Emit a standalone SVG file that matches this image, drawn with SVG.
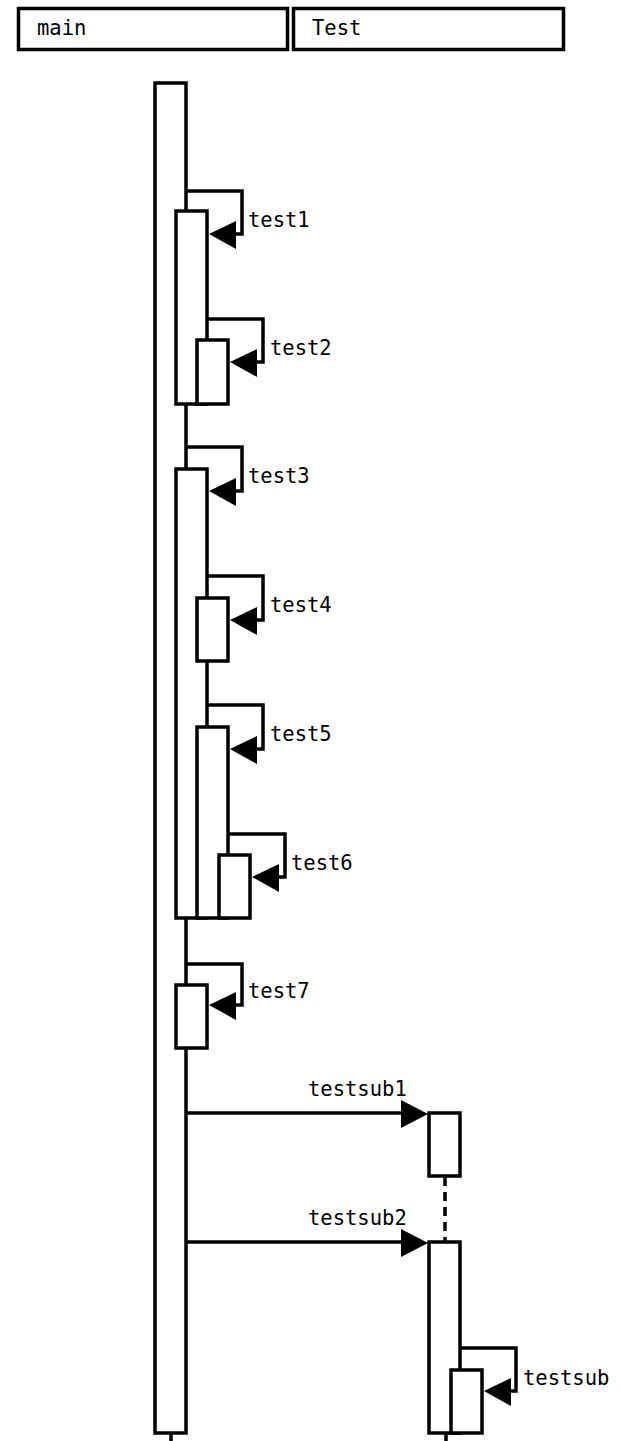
<svg xmlns="http://www.w3.org/2000/svg" width="621" height="1441" viewBox="0 0 621 1441">
<style>
.hdr{fill:#fff;stroke:#000;stroke-width:3.5}
.act{fill:#fff;stroke:#000;stroke-width:3.5}
.ln{fill:none;stroke:#000;stroke-width:3.5}
.dash{fill:none;stroke:#000;stroke-width:3.5;stroke-dasharray:9,6}
.ah{fill:#000;stroke:none}
text{font-family:"DejaVu Sans Mono","Liberation Mono",monospace;font-size:20.5px;fill:#000}
</style>
<rect width="621" height="1441" fill="#fff"/>
<g id="header-main"><rect class="hdr" x="18.5" y="8.5" width="269" height="41"/><text x="37" y="35">main</text></g>
<g id="header-test"><rect class="hdr" x="293.5" y="8.5" width="270" height="41"/><text x="312" y="35">Test</text></g>
<g id="lifeline-main"><rect class="act" x="155" y="83" width="31" height="1350"/></g>
<g id="act-test1"><rect class="act" x="176" y="211" width="31" height="193"/></g>
<g id="act-test2"><rect class="act" x="197" y="340" width="31" height="64"/></g>
<g id="act-test3"><rect class="act" x="176" y="469" width="31" height="449"/></g>
<g id="act-test4"><rect class="act" x="197" y="598" width="31" height="63"/></g>
<g id="act-test5"><rect class="act" x="197" y="727" width="31" height="191"/></g>
<g id="act-test6"><rect class="act" x="219" y="855" width="31" height="63"/></g>
<g id="act-test7"><rect class="act" x="176" y="985" width="31" height="63"/></g>
<g id="act-testsub1"><rect class="act" x="429" y="1113" width="31" height="63"/></g>
<g id="act-testsub2"><rect class="act" x="429" y="1242" width="31" height="191"/></g>
<g id="act-testsub"><rect class="act" x="451" y="1370" width="31" height="63"/></g>
<g id="connectors">
<line class="ln" x1="171" y1="1433" x2="171" y2="1441"/>
<line class="ln" x1="446" y1="1433" x2="446" y2="1441"/>
<line class="dash" x1="445" y1="1177" x2="445" y2="1241"/>
<polyline class="ln" points="186,191 242,191 242,234 230,234"/>
<polygon class="ah" points="209,234 236,221 236,249"/>
<text x="248" y="227">test1</text>
<polyline class="ln" points="207,319 263,319 263,362 250,362"/>
<polygon class="ah" points="230,362 257,349 257,377"/>
<text x="270" y="355">test2</text>
<polyline class="ln" points="186,447 242,447 242,491 230,491"/>
<polygon class="ah" points="209,491 236,478 236,506"/>
<text x="248" y="483">test3</text>
<polyline class="ln" points="207,576 263,576 263,620 250,620"/>
<polygon class="ah" points="230,620 257,607 257,635"/>
<text x="270" y="612">test4</text>
<polyline class="ln" points="207,705 263,705 263,749 250,749"/>
<polygon class="ah" points="230,749 257,736 257,764"/>
<text x="270" y="741">test5</text>
<polyline class="ln" points="228,834 285,834 285,877 272,877"/>
<polygon class="ah" points="252,877 279,864 279,892"/>
<text x="291" y="870">test6</text>
<polyline class="ln" points="186,964 242,964 242,1005 230,1005"/>
<polygon class="ah" points="209,1005 236,992 236,1020"/>
<text x="248" y="998">test7</text>
<line class="ln" x1="186" y1="1113" x2="410" y2="1113"/>
<polygon class="ah" points="428,1114 401,1100 401,1128"/>
<text x="308" y="1096">testsub1</text>
<line class="ln" x1="186" y1="1242" x2="410" y2="1242"/>
<polygon class="ah" points="428,1243 401,1229 401,1257"/>
<text x="308" y="1225">testsub2</text>
<polyline class="ln" points="460,1348 516,1348 516,1391 504,1391"/>
<polygon class="ah" points="484,1391 511,1378 511,1406"/>
<text x="523" y="1385">testsub</text>
</g>
</svg>
